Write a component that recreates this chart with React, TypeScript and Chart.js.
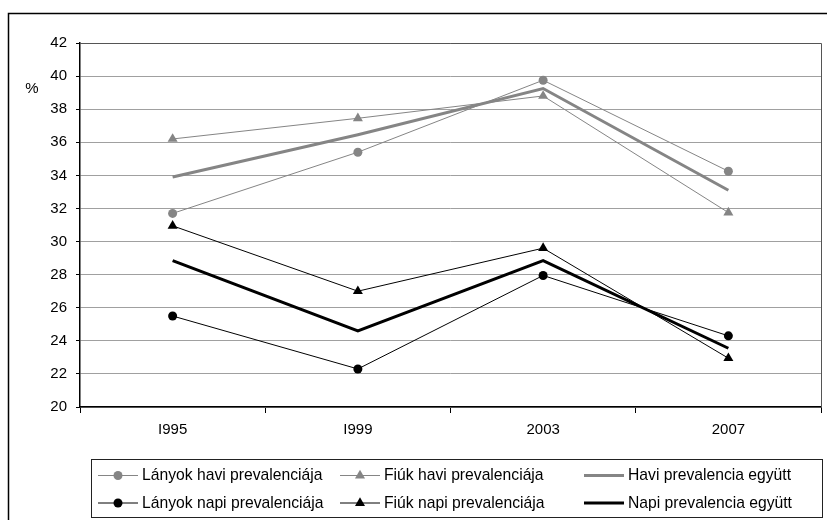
import React, { useEffect, useRef } from 'react';
import { Chart, registerables } from 'chart.js';

Chart.register(...registerables);

const years = ['I995', 'I999', '2003', '2007'];
const lanyokHavi = [31.7, 35.4, 39.75, 34.25];
const fiukHavi = [36.2, 37.45, 38.8, 31.75];
const haviEgyutt = [33.9, 36.45, 39.25, 33.1];
const lanyokNapi = [25.5, 22.3, 27.95, 24.3];
const fiukNapi = [30.95, 27.0, 29.6, 22.95];
const napiEgyutt = [28.85, 24.6, 28.85, 23.55];

const seriesLabels = [
  'Lányok havi prevalenciája',
  'Fiúk havi prevalenciája',
  'Havi prevalencia együtt',
  'Lányok napi prevalenciája',
  'Fiúk napi prevalenciája',
  'Napi prevalencia együtt',
];
const yUnit = '%';
const yMin = 20;
const yMax = 42;
const yStep = 2;

const GRAY = '#858585';
const BLACK = '#000000';
const FONT = '"Liberation Sans", Arial, sans-serif';

function drawTriangle(ctx: CanvasRenderingContext2D, x: number, y: number, r: number) {
  ctx.beginPath();
  let rad = 0;
  ctx.moveTo(x + Math.sin(rad) * r, y - Math.cos(rad) * r);
  rad += (2 * Math.PI) / 3;
  ctx.lineTo(x + Math.sin(rad) * r, y - Math.cos(rad) * r);
  rad += (2 * Math.PI) / 3;
  ctx.lineTo(x + Math.sin(rad) * r, y - Math.cos(rad) * r);
  ctx.closePath();
  ctx.fill();
}

const framePlugin = {
  id: 'frame',
  beforeDraw(chart: any) {
    const ctx = chart.ctx;
    ctx.save();
    ctx.fillStyle = '#ffffff';
    ctx.fillRect(0, 0, chart.width, chart.height);
    ctx.restore();
  },
  beforeDatasetsDraw(chart: any) {
    const { ctx, chartArea } = chart;
    ctx.save();
    ctx.strokeStyle = '#555555';
    ctx.lineWidth = 1;
    ctx.beginPath();
    ctx.moveTo(chartArea.left, chartArea.top + 0.5);
    ctx.lineTo(chartArea.right + 0.5, chartArea.top + 0.5);
    ctx.lineTo(chartArea.right + 0.5, chartArea.bottom);
    ctx.stroke();
    ctx.restore();
  },
  afterDraw(chart: any) {
    const ctx = chart.ctx as CanvasRenderingContext2D;
    ctx.save();
    // outer frame
    ctx.strokeStyle = '#000';
    ctx.lineWidth = 1.5;
    ctx.strokeRect(8.5, 13.5, 900, 600);
    // unit label
    ctx.fillStyle = '#000';
    ctx.font = `15px ${FONT}`;
    ctx.textAlign = 'center';
    ctx.textBaseline = 'middle';
    ctx.fillText(yUnit, 32, 89);

    // legend box
    const bx = 91.5, by = 459.5, bw = 731, bh = 58;
    ctx.strokeStyle = '#222';
    ctx.lineWidth = 1;
    ctx.strokeRect(bx, by, bw, bh);
    const colX = [98, 340, 584];
    const rowY = [475.5, 503];
    const lineLen = 40;
    ctx.textAlign = 'left';
    ctx.font = `15.7px ${FONT}`;
    chart.data.datasets.forEach((ds: any, i: number) => {
      const x = colX[i % 3];
      const y = rowY[Math.floor(i / 3)];
      ctx.strokeStyle = ds.borderColor;
      ctx.lineWidth = ds.borderWidth;
      ctx.beginPath();
      ctx.moveTo(x, y);
      ctx.lineTo(x + lineLen, y);
      ctx.stroke();
      ctx.fillStyle = ds.borderColor;
      if (ds.pointRadius > 0) {
        if (ds.pointStyle === 'triangle') {
          drawTriangle(ctx, x + lineLen / 2, y, ds.pointRadius);
        } else {
          ctx.beginPath();
          ctx.arc(x + lineLen / 2, y, ds.pointRadius, 0, Math.PI * 2);
          ctx.fill();
        }
      }
      ctx.fillStyle = '#000';
      ctx.fillText(ds.label, x + lineLen + 4, y + 0.5);
    });
    ctx.restore();
  },
};

export default function App() {
  const ref = useRef<HTMLCanvasElement | null>(null);

  useEffect(() => {
    if (!ref.current) return;
    const mk = (label: string, data: number[], color: string, width: number, style: string, radius: number) => ({
      label,
      data,
      borderColor: color,
      backgroundColor: color,
      borderWidth: width,
      pointStyle: style,
      pointRadius: radius,
      pointHoverRadius: radius,
      pointBackgroundColor: color,
      pointBorderColor: color,
      pointBorderWidth: 0,
      tension: 0,
      fill: false,
    });
    const chart = new Chart(ref.current, {
      type: 'line',
      data: {
        labels: years,
        datasets: [
          mk(seriesLabels[0], lanyokHavi, GRAY, 1, 'circle', 4.5),
          mk(seriesLabels[1], fiukHavi, GRAY, 1, 'triangle', 5.8),
          mk(seriesLabels[2], haviEgyutt, GRAY, 3, 'circle', 0),
          mk(seriesLabels[3], lanyokNapi, BLACK, 1, 'circle', 4.5),
          mk(seriesLabels[4], fiukNapi, BLACK, 1, 'triangle', 5.8),
          mk(seriesLabels[5], napiEgyutt, BLACK, 3, 'circle', 0),
        ],
      },
      options: {
        animation: false,
        responsive: false,
        devicePixelRatio: 1,
        layout: { padding: { left: 0, right: 6, top: 43, bottom: 0 } },
        plugins: {
          legend: { display: false },
          tooltip: { enabled: false },
          title: { display: false },
        },
        scales: {
          x: {
            type: 'category',
            offset: true,
            grid: {
              display: true,
              drawOnChartArea: false,
              offset: true,
              tickLength: 6,
              tickColor: '#000',
              tickWidth: 1,
            },
            border: { display: true, color: '#000', width: 1.5 },
            ticks: {
              color: '#000',
              font: { family: FONT, size: 15 },
              padding: 8,
              maxRotation: 0,
            },
            afterFit(scale: any) {
              scale.height = 113;
            },
          },
          y: {
            min: yMin,
            max: yMax,
            ticks: {
              stepSize: yStep,
              color: '#000',
              font: { family: FONT, size: 15 },
              padding: 9,
            },
            grid: {
              color: '#a0a0a0',
              lineWidth: 1,
              tickColor: '#000',
              tickLength: 4,
            },
            border: { display: true, color: '#000', width: 1.5 },
            afterFit(scale: any) {
              scale.width = 80;
            },
          },
        },
      },
      plugins: [framePlugin],
    });
    return () => chart.destroy();
  }, []);

  return (
    <div style={{ position: 'absolute', left: 0, top: 0, width: 827, height: 520 }}>
      <canvas ref={ref} width={827} height={520} style={{ display: 'block', width: 827, height: 520 }} />
    </div>
  );
}
